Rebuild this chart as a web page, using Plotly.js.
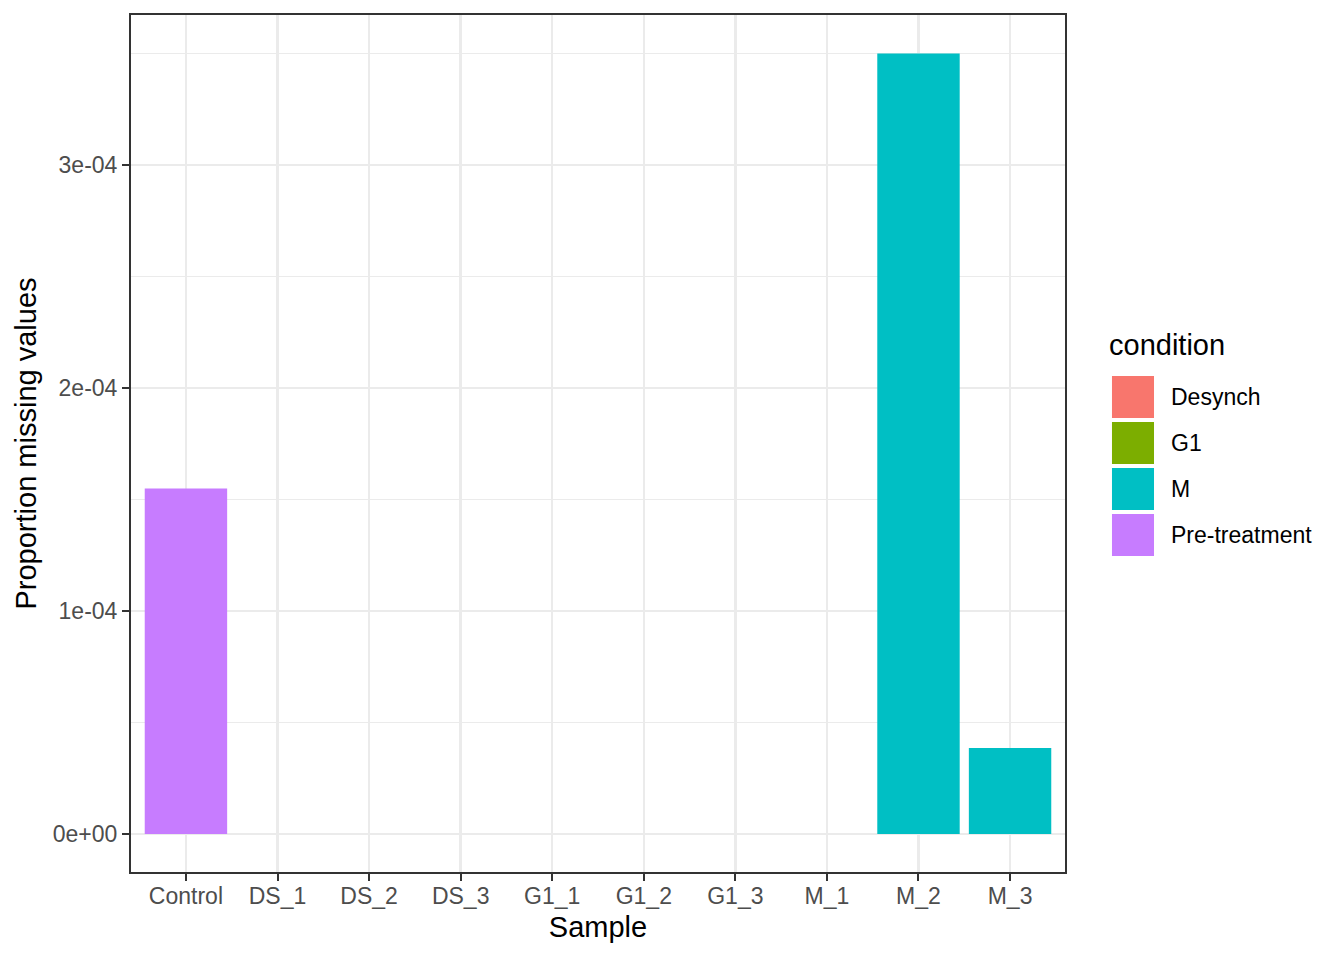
<!DOCTYPE html>
<html>
<head>
<meta charset="utf-8">
<script src="https://cdn.plot.ly/plotly-3.0.1.min.js"></script>
<style>
  html, body { margin: 0; padding: 0; background: #fff; }
  #plot { width: 1344px; height: 960px; }
</style>
</head>
<body>
<div id="plot"></div>
<script>
// samples on the x axis, in plotting order
var samples = ['Control', 'DS_1', 'DS_2', 'DS_3', 'G1_1', 'G1_2', 'G1_3', 'M_1', 'M_2', 'M_3'];
var sampleCondition = ['Pre-treatment', 'Desynch', 'Desynch', 'Desynch', 'G1', 'G1', 'G1', 'M', 'M', 'M'];
// proportion of missing values per sample
var propMissing = [1.55e-4, 0, 0, 0, 0, 0, 0, 0, 3.50e-4, 3.86e-5];

// legend levels and ggplot hue colours
var conditions = ['Desynch', 'G1', 'M', 'Pre-treatment'];
var condColors = ['#F8766D', '#7CAE00', '#00BFC4', '#C77CFF'];

// y tick labels
var yTickVals = [0, 1e-4, 2e-4, 3e-4];
var yTickText = ['0e+00', '1e-04', '2e-04', '3e-04'];

var colorOf = {};
conditions.forEach(function (c, i) { colorOf[c] = condColors[i]; });

var trace = {
  type: 'bar',
  x: samples,
  y: propMissing,
  width: 0.9,
  marker: { color: sampleCondition.map(function (c) { return colorOf[c]; }), line: { width: 0 } },
  showlegend: false,
  hoverinfo: 'x+y'
};

// hand-made legend, ggplot style (big square keys)
var shapes = [];
var annotations = [{
  text: 'condition', xref: 'paper', yref: 'paper', x: 1.045, y: 0.615,
  xanchor: 'left', yanchor: 'middle', showarrow: false,
  font: { family: 'Liberation Sans, Arial, sans-serif', size: 29, color: '#000' }
}];
conditions.forEach(function (c, i) {
  var top = 0.5788 - i * 0.05368;
  shapes.push({
    type: 'rect', xref: 'paper', yref: 'paper',
    x0: 1.0503, x1: 1.0953, y0: top - 0.049, y1: top,
    fillcolor: condColors[i], line: { width: 0 }
  });
  annotations.push({
    text: c, xref: 'paper', yref: 'paper', x: 1.111, y: top - 0.0245,
    xanchor: 'left', yanchor: 'middle', showarrow: false,
    font: { family: 'Liberation Sans, Arial, sans-serif', size: 23, color: '#000' }
  });
});

var layout = {
  width: 1344,
  height: 960,
  margin: { l: 131, r: 279, t: 15, b: 88, pad: 0 },
  paper_bgcolor: '#ffffff',
  plot_bgcolor: '#ffffff',
  font: { family: 'Liberation Sans, Arial, sans-serif', color: '#4D4D4D', size: 23 },
  showlegend: false,
  xaxis: {
    type: 'category',
    categoryorder: 'array',
    categoryarray: samples,
    range: [-0.6, 9.6],
    showgrid: true,
    gridcolor: '#EBEBEB',
    gridwidth: 2.5,
    zeroline: false,
    showline: true,
    mirror: true,
    linecolor: '#333333',
    linewidth: 2,
    ticks: 'outside',
    ticklen: 7,
    tickwidth: 2,
    tickcolor: '#333333',
    ticklabelstandoff: -5,
    tickfont: { size: 23, color: '#4D4D4D' },
    title: { text: 'Sample', font: { size: 29, color: '#000' }, standoff: 9 }
  },
  yaxis: {
    range: [-1.704e-5, 3.673e-4],
    tickmode: 'array',
    tickvals: yTickVals,
    ticktext: yTickText,
    showgrid: true,
    gridcolor: '#EBEBEB',
    gridwidth: 2.5,
    minor: { tickmode: 'linear', tick0: 5e-5, dtick: 1e-4, showgrid: true, gridcolor: '#EBEBEB', gridwidth: 1.3, ticks: '' },
    zeroline: false,
    showline: true,
    mirror: true,
    linecolor: '#333333',
    linewidth: 2,
    ticks: 'outside',
    ticklen: 7,
    tickwidth: 2,
    tickcolor: '#333333',
    tickfont: { size: 23, color: '#4D4D4D' },
    title: { text: 'Proportion missing values', font: { size: 29, color: '#000' }, standoff: 8 }
  },
  shapes: shapes,
  annotations: annotations
};

Plotly.newPlot('plot', [trace], layout, { displayModeBar: false, staticPlot: true });
</script>
</body>
</html>
